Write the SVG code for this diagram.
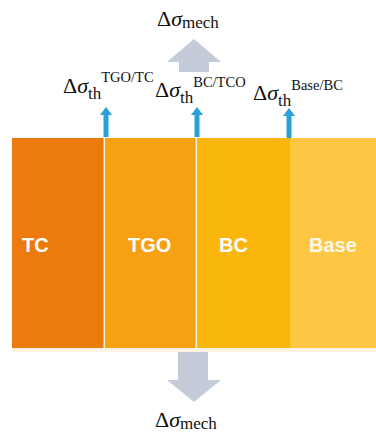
<svg xmlns="http://www.w3.org/2000/svg" width="376" height="435" viewBox="0 0 376 435">
  <style>
    .layer-name { font-family: "Liberation Sans", Arial, sans-serif; font-weight: bold; font-size: 20px; fill: #ffffff; }
    .math { font-family: "Liberation Serif", "Times New Roman", serif; font-size: 22px; fill: #111111; }
    .it { font-style: italic; }
    .sub { font-size: 17px; }
    .sup { font-size: 14.5px; }
    .mech-arrow { fill: #c3ccd8; }
    .th-arrow { fill: #2a9fd8; }
  </style>
  <defs>
    <!-- small thermal stress arrow, tip at origin, pointing up -->
    <path id="thArrow" d="M0 0 L6 8 L2.5 8 L2.5 30 L-2.5 30 L-2.5 8 L-6 8 Z"/>
  </defs>

  <rect width="376" height="435" fill="#ffffff"/>

  <!-- coating layers -->
  <g id="layer-tc">
    <rect x="12" y="138" width="92" height="210" fill="#ec7a0c"/>
    <text class="layer-name" x="22" y="252">TC</text>
  </g>
  <g id="layer-tgo">
    <rect x="104" y="138" width="92" height="210" fill="#f6a012"/>
    <text class="layer-name" x="128" y="252">TGO</text>
  </g>
  <g id="layer-bc">
    <rect x="196" y="138" width="94" height="210" fill="#fbb60e"/>
    <text class="layer-name" x="219" y="252">BC</text>
  </g>
  <g id="layer-base">
    <rect x="290" y="138" width="86" height="210" fill="#fdc744"/>
    <text class="layer-name" x="309" y="252" fill-opacity="0.9">Base</text>
  </g>
  <!-- thin light seams between layers -->
  <g id="seams" fill="#fff4dc">
    <rect x="103.5" y="138" width="1.6" height="210"/>
    <rect x="195.5" y="138" width="1.6" height="210"/>
  </g>
  <rect x="12" y="348" width="364" height="4" fill="#fdf3e2"/>

  <!-- stress arrows -->
  <g id="connectors">
    <polygon class="mech-arrow" points="194,39 221,62 209,62 209,72 179,72 179,62 167,62"/>
    <polygon class="mech-arrow" points="178,352 208,352 208,380 221,380 194,402 167,380 178,380"/>
    <use href="#thArrow" class="th-arrow" x="106" y="107"/>
    <use href="#thArrow" class="th-arrow" x="197" y="107"/>
    <use href="#thArrow" class="th-arrow" x="289" y="108"/>
  </g>

  <!-- stress labels -->
  <g id="labels">
    <text class="math" x="157" y="26">Δ<tspan class="it">σ</tspan><tspan class="sub" dy="2">mech</tspan></text>
    <text class="math" x="63" y="93">Δ<tspan class="it">σ</tspan><tspan class="sub" dy="6">th</tspan><tspan class="sup" dy="-17">TGO/TC</tspan></text>
    <text class="math" x="155" y="97">Δ<tspan class="it">σ</tspan><tspan class="sub" dy="6">th</tspan><tspan class="sup" dy="-16">BC/TCO</tspan></text>
    <text class="math" x="253" y="100">Δ<tspan class="it">σ</tspan><tspan class="sub" dy="6">th</tspan><tspan class="sup" dy="-16">Base/BC</tspan></text>
    <text class="math" x="155" y="427">Δ<tspan class="it">σ</tspan><tspan class="sub" dy="2">mech</tspan></text>
  </g>
</svg>
